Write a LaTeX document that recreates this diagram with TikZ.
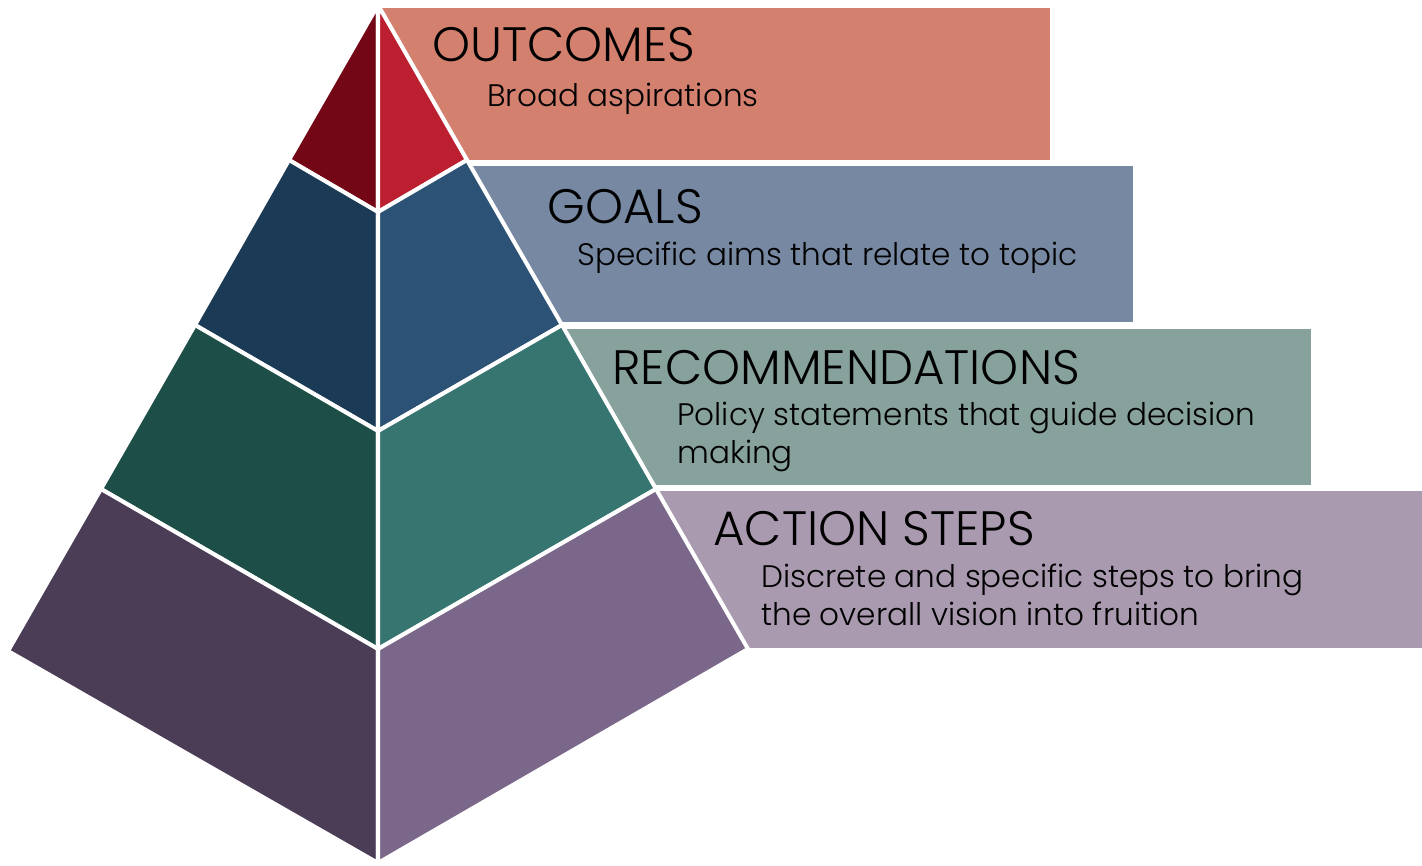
\documentclass[tikz,border=0pt]{standalone}
\usepackage{fontspec}
\setmainfont{Poppins}[UprightFont=* Light]
\definecolor{outL}{HTML}{740716}
\definecolor{outR}{HTML}{BC2030}
\definecolor{outBox}{HTML}{D4806F}
\definecolor{goaL}{HTML}{1B3A56}
\definecolor{goaR}{HTML}{2C5376}
\definecolor{goaBox}{HTML}{7788A3}
\definecolor{recL}{HTML}{1D4F48}
\definecolor{recR}{HTML}{377570}
\definecolor{recBox}{HTML}{87A19D}
\definecolor{actL}{HTML}{4B3D56}
\definecolor{actR}{HTML}{7A6789}
\definecolor{actBox}{HTML}{A99AAF}

\begin{document}
\begin{tikzpicture}[x=0.02cm,y=-0.02cm,
    face/.style={draw=white,line width=2.3pt,line join=round},
    title/.style={anchor=base west,inner sep=0,font=\fontsize{27.5}{33}\selectfont},
    sub/.style={anchor=base west,inner sep=0,align=left,font=\fontsize{17.7}{21.5}\selectfont}]
  \useasboundingbox (0,0) rectangle (1422,865);

  % label boxes (behind the pyramid)
  \fill[outBox] (382,8)   rectangle (1050,160);
  \fill[goaBox] (380,166) rectangle (1133,322);
  \fill[recBox] (380,329) rectangle (1311,485);
  \fill[actBox] (380,491) rectangle (1422,648);

  % pyramid corners
  \coordinate (top) at (378,5);
  \coordinate (l1) at (289,160); \coordinate (c1) at (378,212); \coordinate (r1) at (467,160);
  \coordinate (l2) at (195,325); \coordinate (c2) at (378,431); \coordinate (r2) at (562,325);
  \coordinate (l3) at (101,489); \coordinate (c3) at (378,649); \coordinate (r3) at (656,489);
  \coordinate (l4) at (8,651);   \coordinate (c4) at (378,863); \coordinate (r4) at (748,649);

  \filldraw[face,fill=outL] (top) -- (l1) -- (c1) -- cycle;
  \filldraw[face,fill=outR] (top) -- (c1) -- (r1) -- cycle;
  \filldraw[face,fill=goaL] (l1) -- (l2) -- (c2) -- (c1) -- cycle;
  \filldraw[face,fill=goaR] (c1) -- (c2) -- (r2) -- (r1) -- cycle;
  \filldraw[face,fill=recL] (l2) -- (l3) -- (c3) -- (c2) -- cycle;
  \filldraw[face,fill=recR] (c2) -- (c3) -- (r3) -- (r2) -- cycle;
  \filldraw[face,fill=actL] (l3) -- (l4) -- (c4) -- (c3) -- cycle;
  \filldraw[face,fill=actR] (c3) -- (c4) -- (r4) -- (r3) -- cycle;

  % two-line texts sit on the baseline of their last line
  \node[title] (outcomes) at (432,62) {OUTCOMES};
  \node[sub] (outcomesTxt) at (487,107) {Broad aspirations};
  \node[title] (goals) at (547,223) {GOALS};
  \node[sub] (goalsTxt) at (577,265) {Specific aims that relate to topic};
  \node[title] (recs) at (612,384) {RECOMMENDATIONS};
  \node[sub] (recsTxt) at (677,463) {Policy statements that guide decision\\making};
  \node[title] (steps) at (713,545) {ACTION STEPS};
  \node[sub] (stepsTxt) at (761,625) {Discrete and specific steps to bring\\the overall vision into fruition};
\end{tikzpicture}
\end{document}
